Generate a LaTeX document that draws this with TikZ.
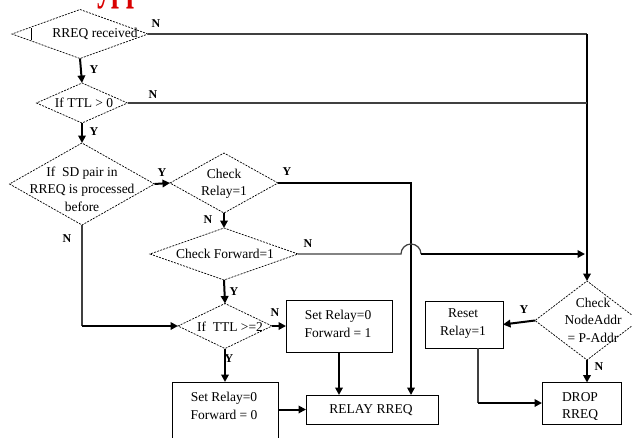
\documentclass[tikz,border=0pt]{standalone}
\usepackage{fontspec}
\setmainfont{Liberation Serif}
\usetikzlibrary{shapes.geometric,arrows.meta,calc}
\begin{document}
\begin{tikzpicture}[x=1pt,y=-1pt,
  dia/.style={diamond,draw,dash pattern=on 2pt off 1.2pt,line width=0.7pt,inner sep=0pt,outer sep=0pt},
  box/.style={draw,line width=0.9pt,inner sep=0pt,outer sep=0pt},
  txt/.style={font=\fontsize{13.5}{17.5}\selectfont,align=center,inner sep=0pt},
  lab/.style={font=\fontsize{12}{12}\selectfont\bfseries,inner sep=0pt},
  arr/.style={line width=2pt,-{Triangle[length=7.5pt,width=7.5pt]}},
  thn/.style={line width=1.2pt,draw=black!75},
]
\useasboundingbox (0,0) rectangle (632,437);
\clip (0,0) rectangle (632,437);

% red heading fragment (cut off at the top, as in the source)
\node[anchor=base west,inner sep=0pt,text=red!85!black,yscale=1.6,font=\fontsize{28}{28}\selectfont\bfseries] (head) at (97,-1) {ypp};

% diamonds
\node[dia,minimum width=136pt,minimum height=49pt] (d1) at (80,34) {};
\node[dia,minimum width=91pt,minimum height=40pt] (d2) at (82,103) {};
\node[dia,minimum width=145pt,minimum height=82pt] (d3) at (82,184) {};
\node[dia,minimum width=108pt,minimum height=60pt] (d4) at (224,183) {};
\node[dia,minimum width=148pt,minimum height=52pt] (d5) at (224,254) {};
\node[dia,minimum width=94pt,minimum height=45pt] (d6) at (225,326) {};
\node[dia,minimum width=104pt,minimum height=79pt] (d7) at (587,320.5) {};
\draw[line width=0.7pt] (31,28) -- (31,40);

% boxes
\node[box,minimum width=106pt,minimum height=52pt] (b1) at (339,326) {};
\node[box,minimum width=106pt,minimum height=70pt] (b2) at (225,417) {};
\node[box,minimum width=132pt,minimum height=29pt] (b3) at (372,409.5) {};
\node[box,minimum width=78pt,minimum height=47pt] (b4) at (464,324.5) {};
\node[box,minimum width=79pt,minimum height=42pt] (b5) at (581.5,403.5) {};

% texts
\node[txt] (t1) at (95,34) {RREQ received};
\node[txt] (t2) at (84,103) {If TTL > 0};
\node[txt] (t3) at (82,189) {If\ \ SD pair in\\RREQ is processed\\before};
\node[txt] (t4) at (224,184) {Check\\Relay=1};
\node[txt] (t5) at (225,254) {Check Forward=1};
\node[txt] (t6) at (230,327) {If\ \ TTL >=2};
\node[txt] (t7) at (593,320) {Check\\NodeAddr\\= P-Addr};
\node[txt] (tb1) at (338,324) {Set Relay=0\\Forward = 1};
\node[txt] (tb2) at (224,406) {Set Relay=0\\Forward = 0};
\node[txt] (tb3) at (371,410) {RELAY RREQ};
\node[txt] (tb4) at (463,323.5) {Reset\\Relay=1};
\begin{scope}
\clip (b5.north west) rectangle (621,419);
\node[txt] (tb5) at (580,406.5) {DROP\\RREQ};
\end{scope}

% labels
\node[lab] (n1) at (156,24) {N};
\node[lab] (y1) at (94,70) {Y};
\node[lab] (n2) at (153,95) {N};
\node[lab] (y2) at (94,132) {Y};
\node[lab] (y3) at (162,173) {Y};
\node[lab] (y4) at (287,172) {Y};
\node[lab] (n3) at (67,239) {N};
\node[lab] (n4) at (208,220) {N};
\node[lab] (n5) at (308,244) {N};
\node[lab] (y5) at (234,292) {Y};
\node[lab] (n6) at (275,313) {N};
\node[lab] (y6) at (229,359) {Y};
\node[lab] (y7) at (524,310) {Y};
\node[lab] (n7) at (599,367) {N};

% coordinates
\coordinate (k3) at (d7.north |- d1.east);
\coordinate (k4) at (d7.north |- d2.east);
\coordinate (k1) at (d3.south |- d6.west);
\coordinate (r1) at (411,395);
\coordinate (k2) at (478,348);
\coordinate (k5) at (478,403);

% connectors
\draw[arr] (d1.south) -- (d2.north);
\draw[arr] (d2.south) -- (d3.north);
\draw[arr] (d3.east) -- (d4.west);
\draw[arr] (d4.south) -- (d5.north);
\draw[arr] (d5.south) -- (d6.north);
\draw[arr] (d6.east) -- (b1.west);
\draw[arr] (d6.south) -- (b2.north);
\draw[arr] (b2.east |- b3.west) -- (b3.west);
\draw[arr] (b1.south) -- (b1.south |- b3.north);
\draw[arr] (d4.east) -| (r1);
\draw[arr] (d7.west) -- (b4.east);
\draw[arr] (d7.south) -- (d7.south |- b5.north);

\draw[thn] (d1.east) -- (k3);
\draw[arr] (k3) -- (d7.north);
\draw[thn] (d2.east) -- (k4);

\draw[thn] (d3.south) -- (k1);
\draw[arr] (k1) -- (d6.west);

\draw[thn] (k2) -- (k5);
\draw[arr] (k5) -- (b5.west |- k5);

\draw[thn] (d5.east) -- (401,254) arc[start angle=180,end angle=360,radius=10];
\draw[arr] (421,254) -- (585,254);
\end{tikzpicture}
\end{document}
